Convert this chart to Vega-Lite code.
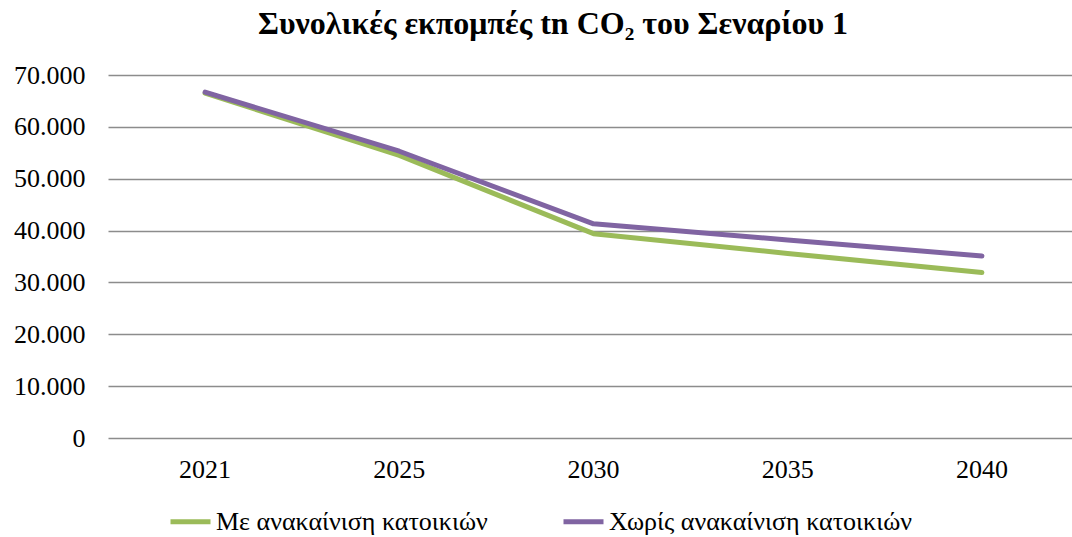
{
  "$schema": "https://vega.github.io/schema/vega-lite/v6.json",
  "autosize": "none",
  "width": 964,
  "height": 363,
  "padding": {"left": 108, "top": 75, "right": 0, "bottom": 99},
  "background": "white",
  "title": {
    "text": "Συνολικές εκπομπές tn CO₂ του Σεναρίου 1",
    "font": "Liberation Serif",
    "fontSize": 32,
    "fontWeight": "bold",
    "color": "black",
    "anchor": "middle",
    "dx": -37,
    "offset": 21
  },
  "data": {
    "values": [
      {"year": "2021", "series": "Με ανακαίνιση κατοικιών", "tn": 66500},
      {"year": "2025", "series": "Με ανακαίνιση κατοικιών", "tn": 54500},
      {"year": "2030", "series": "Με ανακαίνιση κατοικιών", "tn": 39400},
      {"year": "2035", "series": "Με ανακαίνιση κατοικιών", "tn": 35600},
      {"year": "2040", "series": "Με ανακαίνιση κατοικιών", "tn": 31900},
      {"year": "2021", "series": "Χωρίς ανακαίνιση κατοικιών", "tn": 66700},
      {"year": "2025", "series": "Χωρίς ανακαίνιση κατοικιών", "tn": 55300},
      {"year": "2030", "series": "Χωρίς ανακαίνιση κατοικιών", "tn": 41300},
      {"year": "2035", "series": "Χωρίς ανακαίνιση κατοικιών", "tn": 38200},
      {"year": "2040", "series": "Χωρίς ανακαίνιση κατοικιών", "tn": 35100}
    ]
  },
  "mark": {"type": "line", "strokeWidth": 5, "strokeCap": "round", "strokeJoin": "round"},
  "encoding": {
    "x": {
      "field": "year",
      "type": "nominal",
      "sort": null,
      "scale": {"type": "band", "range": [0, 971], "paddingInner": 0, "paddingOuter": 0},
      "axis": {
        "title": null,
        "labelAngle": 0,
        "ticks": false,
        "domain": false,
        "grid": false,
        "labelPadding": 18,
        "labelFont": "Liberation Serif",
        "labelFontSize": 26,
        "labelColor": "black"
      }
    },
    "y": {
      "field": "tn",
      "type": "quantitative",
      "scale": {"domain": [0, 70000], "nice": false},
      "axis": {
        "title": null,
        "values": [0, 10000, 20000, 30000, 40000, 50000, 60000, 70000],
        "labelExpr": "replace(format(datum.value, ','), ',', '.')",
        "ticks": false,
        "domain": false,
        "grid": true,
        "gridColor": "#8c8c8c",
        "gridWidth": 1.5,
        "labelPadding": 23,
        "labelFont": "Liberation Serif",
        "labelFontSize": 26,
        "labelColor": "black"
      }
    },
    "color": {
      "field": "series",
      "type": "nominal",
      "scale": {
        "domain": ["Με ανακαίνιση κατοικιών", "Χωρίς ανακαίνιση κατοικιών"],
        "range": ["#9bbb59", "#8064a2"]
      },
      "legend": {
        "title": null,
        "orient": "none",
        "direction": "horizontal",
        "legendX": 60,
        "legendY": 424,
        "symbolType": "stroke",
        "symbolSize": 1600,
        "symbolStrokeWidth": 5,
        "symbolOffset": 0,
        "labelFont": "Liberation Serif",
        "labelFontSize": 26,
        "labelColor": "black",
        "labelLimit": 0,
        "labelOffset": 3,
        "columnPadding": 65
      }
    }
  },
  "config": {
    "view": {"stroke": null}
  }
}
